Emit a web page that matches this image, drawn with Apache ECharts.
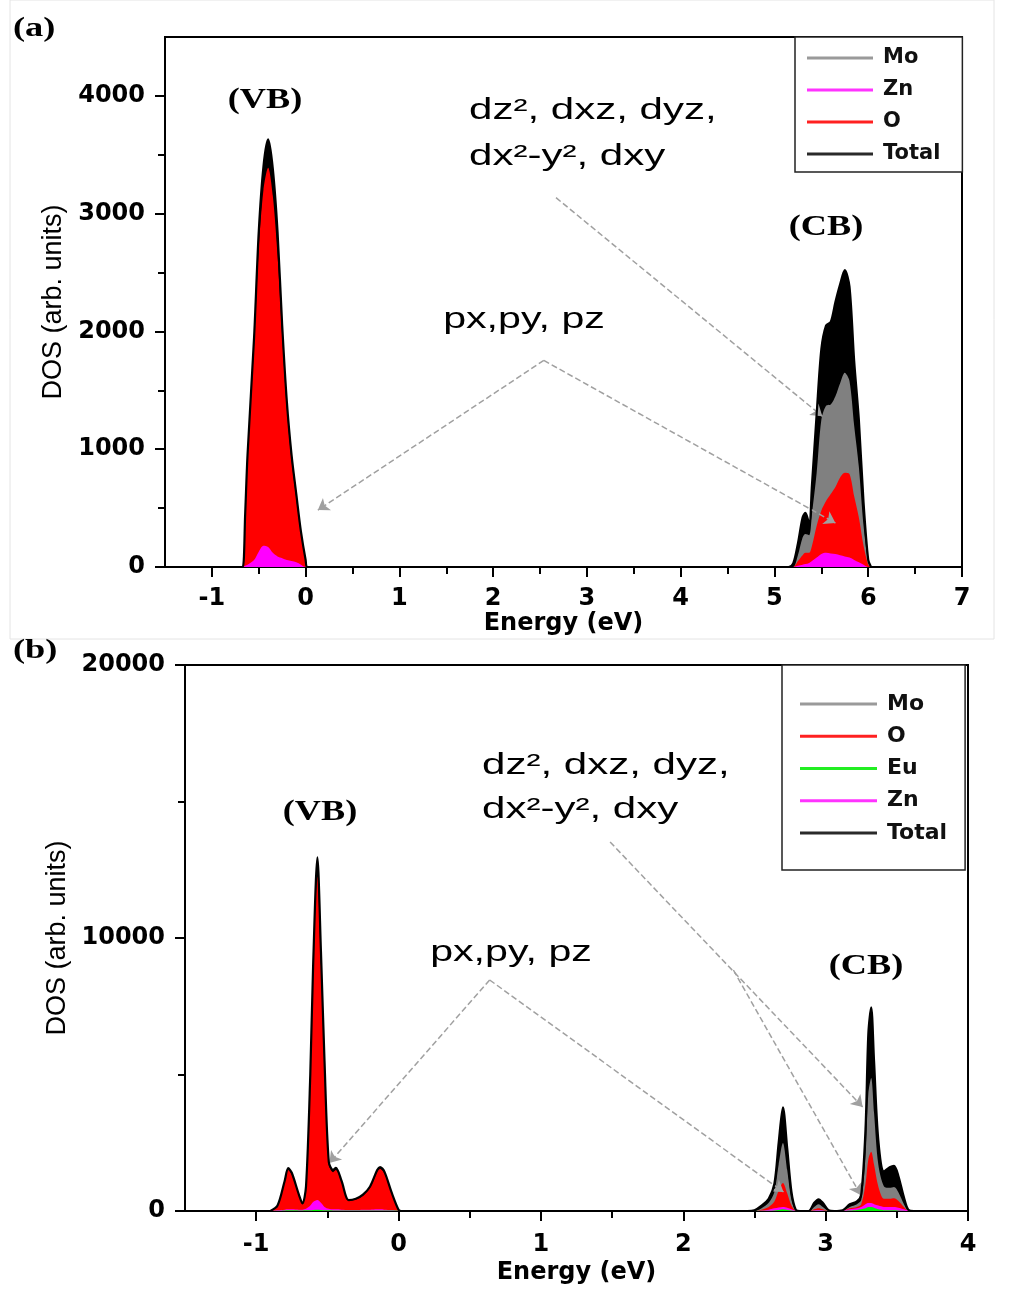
<!DOCTYPE html>
<html>
<head>
<meta charset="utf-8">
<script src="https://cdn.jsdelivr.net/npm/echarts@6/dist/echarts.min.js"></script>
<style>
html,body{margin:0;padding:0;background:#fff;}
#chart{width:1017px;height:1291px;}
</style>
</head>
<body>
<div id="chart"></div>
<script>
// ---------- Panel (a) data ----------
const energyA = [-0.70,-0.67,-0.645,-0.62,-0.55,-0.50,-0.45,-0.40,-0.35,-0.30,-0.25,-0.20,-0.15,-0.10,-0.05,0.00,0.02,
  5.15,5.20,5.25,5.30,5.33,5.37,5.40,5.45,5.50,5.55,5.60,5.65,5.70,5.75,5.80,5.85,5.90,5.95,6.00,6.03];
const totalA = [0,0,450,950,1950,2850,3400,3630,3380,2850,2050,1400,950,620,300,60,0,
  0,30,200,420,460,370,700,1300,1850,2050,2080,2250,2400,2520,2380,1750,1250,550,60,0];
const moA = [0,0,8,15,30,45,60,60,55,40,30,20,10,5,0,0,0,
  0,0,100,250,280,270,450,800,1250,1370,1380,1450,1560,1650,1580,1200,850,350,40,0];
const oA = [0,0,420,900,1880,2700,3200,3390,3150,2650,1950,1330,900,580,280,50,0,
  0,0,50,100,120,120,180,350,480,560,620,680,760,800,790,600,420,180,20,0];
const znA = [0,0,10,20,60,130,180,170,120,90,75,60,50,40,20,0,0,
  0,0,10,20,25,35,50,80,110,120,115,110,100,90,80,60,40,20,0,0];
const xMajorA = [-1,0,1,2,3,4,5,6,7];
const xMinorA = [-0.5,0.5,1.5,2.5,3.5,4.5,5.5,6.5];
const yMajorA = [0,1000,2000,3000,4000];
const yMinorA = [500,1500,2500,3500];

// ---------- Panel (b) data ----------
const energyB = [-0.90,-0.85,-0.80,-0.775,-0.75,-0.70,-0.675,-0.65,-0.62,-0.60,-0.57,-0.545,-0.52,-0.49,-0.46,-0.44,-0.40,-0.35,-0.30,-0.25,-0.20,-0.15,-0.13,-0.10,-0.05,0.00,0.02,
  2.45,2.50,2.55,2.60,2.64,2.67,2.70,2.73,2.76,2.79,2.82,2.88,2.92,2.95,2.98,3.02,3.06,3.12,3.17,3.22,3.25,3.28,3.30,3.32,3.34,3.37,3.41,3.45,3.48,3.51,3.55,3.58,3.62];
const totalB = [0,200,1100,1570,1400,600,280,900,5000,9000,12950,9500,5500,1800,1500,1580,1100,400,450,600,900,1500,1610,1450,700,50,0,
  0,30,200,450,1000,2500,3800,2300,700,50,0,0,300,430,300,30,0,30,250,350,600,3000,6500,7460,5500,2600,1450,1600,1650,1300,500,50,0];
const moB = [0,10,20,30,30,20,15,20,40,60,80,60,40,30,30,30,20,15,15,15,20,30,30,30,20,10,0,
  0,0,100,300,700,1700,2490,1500,400,20,0,0,150,250,150,10,0,20,150,250,400,2000,4300,4870,3600,1700,900,850,880,700,250,20,0];
const oB = [0,180,1050,1500,1330,560,250,850,4800,8600,12250,9000,5200,1700,1420,1500,1040,370,420,560,850,1430,1540,1380,660,40,0,
  0,0,50,150,350,750,1030,650,200,10,0,0,60,100,60,0,0,10,100,150,250,1000,1900,2170,1700,900,450,450,470,380,150,10,0];
const znB = [0,30,50,60,60,50,50,80,200,330,400,300,150,80,60,60,50,40,40,50,50,60,60,50,40,20,0,
  0,0,20,50,100,130,150,120,60,10,0,0,30,40,30,0,0,10,60,100,150,250,290,290,250,200,150,150,150,120,60,10,0];
const euB = [0,10,20,25,25,20,20,25,30,40,50,40,30,25,20,20,20,15,15,15,20,20,20,20,15,10,0,
  0,0,5,10,20,40,60,40,15,5,0,0,5,10,5,0,0,5,20,40,60,100,150,150,120,60,30,30,30,20,10,0,0];
const xMajorB = [-1,0,1,2,3,4];
const xMinorB = [-0.5,0.5,1.5,2.5,3.5];
const yMajorB = [0,10000,20000];
const yMinorB = [5000,15000];

// annotation arrows (data coordinates): [x1,y1,x2,y2]
const arrowsA = [[2.54,1754,0.13,483],[2.54,1754,5.65,373],[2.67,3136,5.51,1280]];
const arrowsB = [[0.64,8462,-0.486,1758],[0.64,8462,2.704,696],[1.486,13516,3.26,3810],[2.352,8828,3.246,586]];

const COLORS = {Mo:'#808080', Zn:'#ff00ff', O:'#ff0000', Eu:'#00ee00', Total:'#000000'};
const LEGCOL = {Mo:'#9a9a9a', Zn:'#ff33ff', O:'#ff2020', Eu:'#22ee22', Total:'#2a2a2a'};

function pairs(xs, ys){ return xs.map((x,i)=>[x, ys[i]]); }

function mkSeries(name, xs, ys, xi, yi, extra){
  return Object.assign({
    name, type:'line', xAxisIndex:xi, yAxisIndex:yi,
    data: pairs(xs, ys), smooth:0.3, symbol:'none', showSymbol:false,
    itemStyle:{color:LEGCOL[name]},
    lineStyle:{color:COLORS[name], width:0},
    areaStyle:{color:COLORS[name], opacity:1},
    emphasis:{disabled:true}, silent:true
  }, extra||{});
}
function outline(xs, ys, xi, yi, extra){
  return Object.assign({
    name:'Total', type:'line', xAxisIndex:xi, yAxisIndex:yi, z:5,
    data: pairs(xs, ys), smooth:0.3, symbol:'none', showSymbol:false,
    itemStyle:{color:LEGCOL.Total},
    lineStyle:{color:'#000', width:2.2},
    emphasis:{disabled:true}, silent:true
  }, extra||{});
}

function arrowMarkLine(list){
  return {
    silent:true, symbol:['none','arrow'], symbolSize:11,
    label:{show:false}, emphasis:{disabled:true},
    lineStyle:{type:'dashed', color:'#a0a0a0', width:1.5},
    data: list.map(a=>[{coord:[a[0],a[1]]},{coord:[a[2],a[3]]}])
  };
}

const tickFont = {fontFamily:'DejaVu Sans', fontWeight:'bold', fontSize:24, color:'#000'};
const plain = v => String(v);

function mainX(grid, min, max, majors, margin, gap){
  return {type:'value', gridIndex:grid, min, max, position:'bottom',
    axisLine:{show:true, onZero:false, lineStyle:{color:'#000', width:2}},
    axisTick:{show:true, length:10, lineStyle:{color:'#000', width:2}, customValues:majors},
    axisLabel:Object.assign({show:true, margin, customValues:majors, formatter:plain}, tickFont),
    splitLine:{show:false}, minorTick:{show:false},
    name:'Energy (eV)', nameLocation:'middle', nameGap:gap,
    nameTextStyle:{fontFamily:'DejaVu Sans', fontWeight:'bold', fontSize:24, color:'#000'}};
}
function minorX(grid, min, max, minors){
  return {type:'value', gridIndex:grid, min, max, position:'bottom', offset:0,
    axisLine:{show:false, onZero:false}, axisLabel:{show:false}, splitLine:{show:false},
    axisTick:{show:true, length:7, lineStyle:{color:'#000', width:2}, customValues:minors}};
}
function mainY(grid, min, max, majors, margin, gap){
  return {type:'value', gridIndex:grid, min, max, position:'left',
    axisLine:{show:true, onZero:false, lineStyle:{color:'#000', width:2}},
    axisTick:{show:true, length:10, lineStyle:{color:'#000', width:2}, customValues:majors},
    axisLabel:Object.assign({show:true, margin, customValues:majors, formatter:plain}, tickFont),
    splitLine:{show:false}, minorTick:{show:false},
    name:'DOS (arb. units)', nameLocation:'middle', nameGap:gap, nameRotate:90,
    nameTextStyle:{fontFamily:'Liberation Sans', fontSize:27, color:'#000'}};
}
function minorY(grid, min, max, minors){
  return {type:'value', gridIndex:grid, min, max, position:'left', offset:0,
    axisLine:{show:false, onZero:false}, axisLabel:{show:false}, splitLine:{show:false},
    axisTick:{show:true, length:7, lineStyle:{color:'#000', width:2}, customValues:minors}};
}

function txt(x, y, text, opts){
  return Object.assign({type:'text', x, y, silent:true, z:100,
    style:Object.assign({text, fill:'#000', align:'left', verticalAlign:'middle'}, opts.style)},
    opts.scaleX ? {scaleX:opts.scaleX} : {});
}
const serifB = s => ({fontFamily:'Liberation Serif', fontWeight:'bold', fontSize:s});
const sans = s => ({fontFamily:'Liberation Sans', fontWeight:'normal', fontSize:s});

const chart = echarts.init(document.getElementById('chart'), null, {renderer:'canvas'});
chart.setOption({
  animation:false,
  backgroundColor:'#fff',
  grid:[
    {left:165, top:37, width:797, height:530, show:true, borderColor:'#000', borderWidth:2, backgroundColor:'transparent', containLabel:false},
    {left:185, top:665, width:783, height:546, show:true, borderColor:'#000', borderWidth:2, backgroundColor:'transparent', containLabel:false}
  ],
  xAxis:[
    mainX(0,-1.5,7,xMajorA,20,40), minorX(0,-1.5,7,xMinorA),
    mainX(1,-1.5,4,xMajorB,22,50), minorX(1,-1.5,4,xMinorB)
  ],
  yAxis:[
    mainY(0,0,4500,yMajorA,20,88), minorY(0,0,4500,yMinorA),
    mainY(1,0,20000,yMajorB,20,102), minorY(1,0,20000,yMinorB)
  ],
  legend:[
    {data:['Mo','Zn','O','Total'], orient:'vertical', left:795, top:37, selectedMode:false,
     padding:[9,22,6,12], itemWidth:66, itemHeight:3, itemGap:8, icon:'rect',
     borderColor:'#222', borderWidth:1.5, backgroundColor:'#fff',
     textStyle:{fontFamily:'DejaVu Sans', fontWeight:'bold', fontSize:21, color:'#111', lineHeight:24, padding:[0,0,0,5]}},
    {data:['Mo','O','Eu','Zn','Total'], orient:'vertical', left:782, top:665, selectedMode:false,
     padding:[27,18,25,18], itemWidth:77, itemHeight:3, itemGap:8.25, icon:'rect',
     borderColor:'#222', borderWidth:1.5, backgroundColor:'#fff',
     textStyle:{fontFamily:'DejaVu Sans', fontWeight:'bold', fontSize:22, color:'#111', lineHeight:24, padding:[0,0,0,5]}}
  ],
  series:[
    mkSeries('Total', energyA, totalA, 0, 0),
    mkSeries('Mo', energyA, moA, 0, 0),
    mkSeries('O', energyA, oA, 0, 0),
    mkSeries('Zn', energyA, znA, 0, 0),
    outline(energyA, totalA, 0, 0, {markLine:arrowMarkLine(arrowsA)}),
    mkSeries('Total', energyB, totalB, 2, 2),
    mkSeries('Mo', energyB, moB, 2, 2),
    mkSeries('O', energyB, oB, 2, 2),
    mkSeries('Zn', energyB, znB, 2, 2),
    mkSeries('Eu', energyB, euB, 2, 2),
    outline(energyB, totalB, 2, 2, {markLine:arrowMarkLine(arrowsB)})
  ],
  graphic:[
    {type:'rect', silent:true, z:-10, shape:{x:10, y:0, width:984, height:639}, style:{fill:'none', stroke:'#e4e4e4', lineWidth:1}},
    // panel (a)
    txt(13, 29, '(a)', {scaleX:1.3, style:serifB(28)}),
    txt(265, 101, '(VB)', {scaleX:1.25, style:Object.assign({align:'center'}, serifB(29))}),
    txt(826, 228, '(CB)', {scaleX:1.25, style:Object.assign({align:'center'}, serifB(29))}),
    txt(524, 320, 'px,py, pz', {scaleX:1.42, style:Object.assign({align:'center'}, sans(29))}),
    txt(469, 111, 'dz², dxz, dyz,', {scaleX:1.45, style:sans(29)}),
    txt(469, 157, 'dx²-y², dxy', {scaleX:1.45, style:sans(29)}),
    // panel (b)
    txt(13, 651, '(b)', {scaleX:1.3, style:serifB(28)}),
    txt(320, 813, '(VB)', {scaleX:1.25, style:Object.assign({align:'center'}, serifB(29))}),
    txt(866, 967, '(CB)', {scaleX:1.25, style:Object.assign({align:'center'}, serifB(29))}),
    txt(511, 953, 'px,py, pz', {scaleX:1.42, style:Object.assign({align:'center'}, sans(29))}),
    txt(482, 766, 'dz², dxz, dyz,', {scaleX:1.45, style:sans(29)}),
    txt(482, 810, 'dx²-y², dxy', {scaleX:1.45, style:sans(29)})
  ]
});
</script>
</body>
</html>
